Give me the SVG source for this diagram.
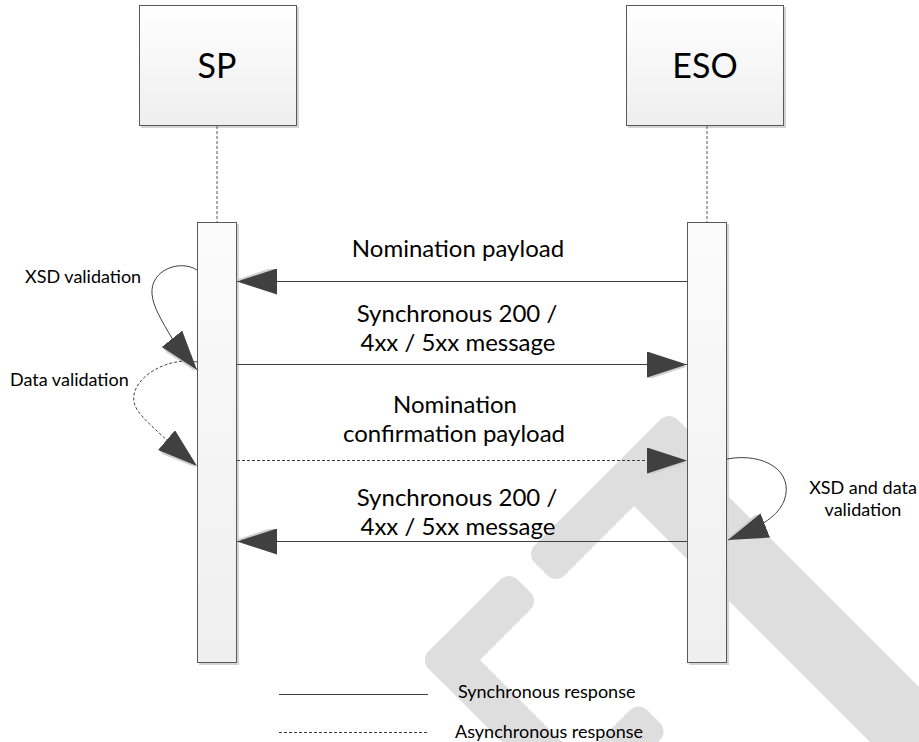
<svg xmlns="http://www.w3.org/2000/svg" width="919" height="742" viewBox="0 0 919 742">
  <defs>
    <linearGradient id="boxFill" x1="0" y1="0" x2="0" y2="1">
      <stop offset="0" stop-color="#ffffff"/>
      <stop offset="1" stop-color="#eeeeee"/>
    </linearGradient>
    <linearGradient id="barFill" x1="0" y1="0" x2="0" y2="1">
      <stop offset="0" stop-color="#fbfbfb"/>
      <stop offset="1" stop-color="#efefef"/>
    </linearGradient>
    <marker id="head" viewBox="0 0 40 26" refX="40" refY="13" markerWidth="40" markerHeight="26" markerUnits="userSpaceOnUse" orient="auto">
      <path d="M1,2 L40,15 L1,28 Z" fill="#cfcfcf"/>
      <path d="M0,0 L40,13 L0,26 Z" fill="#404040"/>
    </marker>
    <style>
      .wm { fill: #dedede; }
      .box { fill: url(#boxFill); stroke: #595959; stroke-width: 1; }
      .bar { fill: url(#barFill); stroke: #595959; stroke-width: 1; }
      .shadow { fill: #d4d4d4; }
      .life { stroke: #595959; stroke-width: 1; stroke-dasharray: 3 2; fill: none; }
      .msg { stroke: #404040; stroke-width: 1; fill: none; marker-end: url(#head); }
      .dash { stroke-dasharray: 3 2; }
      .title { font-family: Lato, "Liberation Sans", sans-serif; font-size: 34px; fill: #000; text-anchor: middle; }
      .lbl { font-family: Lato, "Liberation Sans", sans-serif; font-size: 24px; fill: #000; text-anchor: middle; }
      .small { font-family: Lato, "Liberation Sans", sans-serif; font-size: 18px; fill: #000; }
      .key { stroke: #404040; stroke-width: 1; fill: none; }
    </style>
  </defs>

  <rect width="919" height="742" fill="#ffffff"/>

  <!-- faint background emblem, drawn in a 45° frame: local (s,d) = (x+y, y-x) -->
  <g id="watermark" transform="rotate(45) scale(0.70710678)">
    <rect class="wm" x="1080" y="-258" width="60" height="286" rx="17"/>
    <rect class="wm" x="1120" y="-232" width="700" height="104" rx="10"/>
    <rect class="wm" x="1080" y="62" width="60" height="178" rx="17"/>
    <rect class="wm" x="1080" y="180" width="520" height="60" rx="17"/>
    <rect class="wm" x="1340" y="63" width="60" height="400" rx="17"/>
  </g>

  <!-- SP participant -->
  <g id="node-sp">
    <rect class="shadow" x="141" y="7" width="158" height="121"/>
    <rect class="box" x="139.5" y="5.5" width="157" height="120"/>
    <text class="title" x="217" y="78">SP</text>
    <line class="life" x1="217" y1="126" x2="217" y2="222"/>
    <rect class="shadow" x="199" y="224" width="40" height="441"/>
    <rect class="bar" x="197.5" y="222.5" width="39" height="440"/>
  </g>

  <!-- ESO participant -->
  <g id="node-eso">
    <rect class="shadow" x="628" y="7" width="158" height="121"/>
    <rect class="box" x="626.5" y="5.5" width="157" height="120"/>
    <text class="title" x="705" y="78">ESO</text>
    <line class="life" x1="707" y1="126" x2="707" y2="222"/>
    <rect class="shadow" x="689" y="224" width="40" height="441"/>
    <rect class="bar" x="687.5" y="222.5" width="39" height="440"/>
  </g>

  <!-- messages and self-calls -->
  <g id="connectors">
    <line class="msg" x1="687" y1="281.5" x2="237" y2="281.5"/>
    <line class="msg" x1="237" y1="364.5" x2="687" y2="364.5"/>
    <line class="msg dash" x1="237" y1="460.5" x2="687" y2="460.5"/>
    <line class="msg" x1="687" y1="541.5" x2="237" y2="541.5"/>
    <path class="msg" d="M197,270 C180,259 150,270 152,294 C153,306 160,318 173,340 L197,370"/>
    <path class="msg dash" d="M197,362 C168,356 130,378 134,402 C136,412 145,420 170,443 L197,466"/>
    <path class="msg" d="M727,459 C765,452 795,472 784,501 C778,515 764,526 728,540"/>
  </g>

  <g id="labels">
    <text class="lbl" x="458" y="257">Nomination payload</text>
    <text class="lbl" x="457" y="322">Synchronous 200 /</text>
    <text class="lbl" x="458" y="351">4xx / 5xx message</text>
    <text class="lbl" x="455" y="413">Nomination</text>
    <text class="lbl" x="454" y="442">confirmation payload</text>
    <text class="lbl" x="457" y="506">Synchronous 200 /</text>
    <text class="lbl" x="458" y="535">4xx / 5xx message</text>
    <text class="small" x="25" y="283">XSD validation</text>
    <text class="small" x="10" y="386">Data validation</text>
    <text class="small" x="863" y="494" text-anchor="middle">XSD and data</text>
    <text class="small" x="863" y="516" text-anchor="middle">validation</text>
  </g>

  <!-- key -->
  <g id="legend">
    <line class="key" x1="279" y1="694.5" x2="428" y2="694.5"/>
    <line class="key dash" x1="279" y1="732.5" x2="428" y2="732.5"/>
    <text class="small" x="458" y="698">Synchronous response</text>
    <text class="small" x="455" y="738">Asynchronous response</text>
  </g>
</svg>
